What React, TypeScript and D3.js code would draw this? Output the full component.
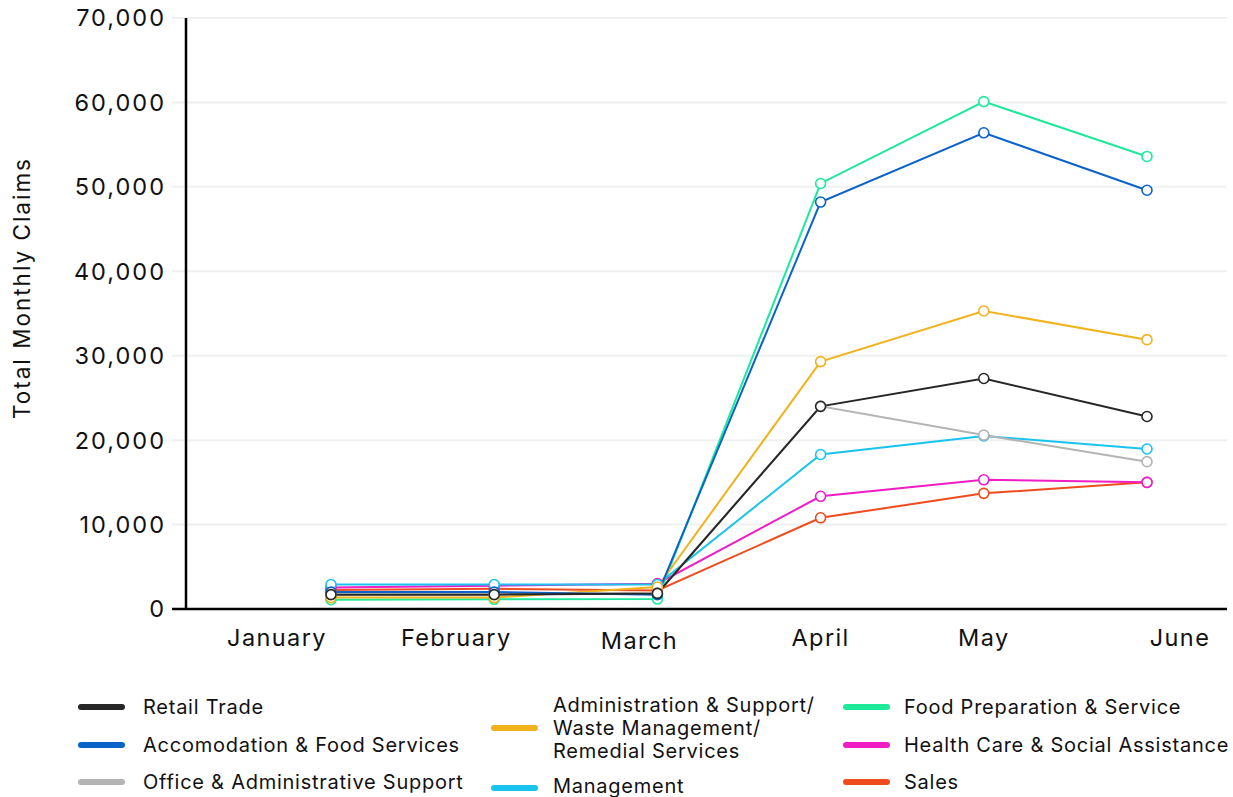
import React from "react";
import * as d3 from "d3";

const months = ["January", "February", "March", "April", "May", "June"];
const yTicks = [0, 10000, 20000, 30000, 40000, 50000, 60000, 70000];

const seriesNames = [
  "Retail Trade",
  "Accomodation & Food Services",
  "Office & Administrative Support",
  "Administration & Support/ Waste Management/ Remedial Services",
  "Management",
  "Food Preparation & Service",
  "Health Care & Social Assistance",
  "Sales",
];

const retailTrade = [1700, 1700, 1850, 24000, 27300, 22800];
const accomodationFood = [2000, 2000, 1700, 48200, 56400, 49600];
const officeAdmin = [1750, 1750, 1900, 24000, 20600, 17450];
const adminSupport = [1350, 1350, 2600, 29300, 35300, 31900];
const management = [2900, 2900, 2900, 18300, 20500, 18950];
const foodPrep = [1100, 1150, 1180, 50400, 60100, 53600];
const healthCare = [2550, 2750, 3000, 13350, 15300, 15000];
const sales = [2250, 2400, 2200, 10800, 13700, 15000];

const seriesValues = [retailTrade, accomodationFood, officeAdmin, adminSupport, management, foodPrep, healthCare, sales];
const seriesColors = ["#262626", "#0b63c9", "#b4b4b4", "#f0b31c", "#18c3ee", "#1de99b", "#f01cc4", "#f04a1f"];

const FONT = "Inter, 'Noto Sans', sans-serif";

export default function App() {
  const W = 1233, H = 797;
  const x = d3.scalePoint<string>().domain(months).range([331, 1147]);
  const y = d3.scaleLinear().domain([0, 70000]).range([609, 18]);
  const fmt = d3.format(",");
  const line = d3.line<number>().x((_, i) => x(months[i]) as number).y((d) => y(d));

  const labelDx = [-54, -38, -18, 0, 0, 33];
  const labelDy = [0, 0, 3, 0, 0, 0];

  const order = d3.range(seriesNames.length).reverse();

  const legendCols = [
    { sx: 78, tx: 143, items: [0, 1, 2] },
    { sx: 491, tx: 553, items: [3, 4] },
    { sx: 843, tx: 904, items: [5, 6, 7] },
  ];
  const rowY = [707, 745, 782];

  return (
    <div style={{ position: "absolute", left: 0, top: 0, width: W, height: H, background: "#fff" }}>
      <svg width={W} height={H} style={{ display: "block", fontFamily: FONT, fontWeight: 400 }}>
        {yTicks.map((t) => (
          <g key={t}>
            {t > 0 && <line x1={172} x2={1227} y1={y(t)} y2={y(t)} stroke="#f0f0f0" strokeWidth={2} />}
            <text x={166} y={y(t)} dy="0.36em" textAnchor="end" fontSize={23.5} letterSpacing={2} fill="#111">
              {fmt(t)}
            </text>
          </g>
        ))}
        <line x1={186} x2={186} y1={18} y2={609} stroke="#000" strokeWidth={2.5} />
        <line x1={172} x2={1227} y1={609} y2={609} stroke="#000" strokeWidth={2.5} />
        <text
          transform={`translate(30,288) rotate(-90)`}
          textAnchor="middle"
          fontSize={22.5}
          letterSpacing={2}
          fill="#111"
        >
          Total Monthly Claims
        </text>
        {months.map((m, i) => (
          <text key={m} x={(x(m) as number) + labelDx[i]} y={646 + labelDy[i]} textAnchor="middle" fontSize={23.5} letterSpacing={1.4} fill="#111">
            {m}
          </text>
        ))}
        {order.map((si) => (
          <g key={si}>
            <path d={line(seriesValues[si]) || ""} fill="none" stroke={seriesColors[si]} strokeWidth={2} />
          </g>
        ))}
        {order.map((si) => (
          <g key={"c" + si}>
            {seriesValues[si].map((v, i) => (
              <circle key={i} cx={x(months[i]) as number} cy={y(v)} r={5} fill="#fff" stroke={seriesColors[si]} strokeWidth={1.6} />
            ))}
          </g>
        ))}
        {legendCols.map((col, ci) => (
          <g key={ci}>
            {col.items.map((si, ri) => {
              const multi = si === 3;
              const cy = ci === 1 ? (ri === 0 ? 728 : 786) : rowY[ri];
              const lines = multi ? ["Administration & Support/", "Waste Management/", "Remedial Services"] : [seriesNames[si]];
              return (
                <g key={si}>
                  <line x1={col.sx + 3} x2={col.sx + 44} y1={cy + (ci === 1 && ri === 1 ? 2 : 0)} y2={cy + (ci === 1 && ri === 1 ? 2 : 0)} stroke={seriesColors[si]} strokeWidth={6} strokeLinecap="round" />
                  {lines.map((ln, li) => (
                    <text key={li} x={col.tx} y={cy + (li - (lines.length - 1) / 2) * 23} dy="0.33em" fontSize={20} letterSpacing={0.75} fill="#111">
                      {ln}
                    </text>
                  ))}
                </g>
              );
            })}
          </g>
        ))}
      </svg>
    </div>
  );
}
